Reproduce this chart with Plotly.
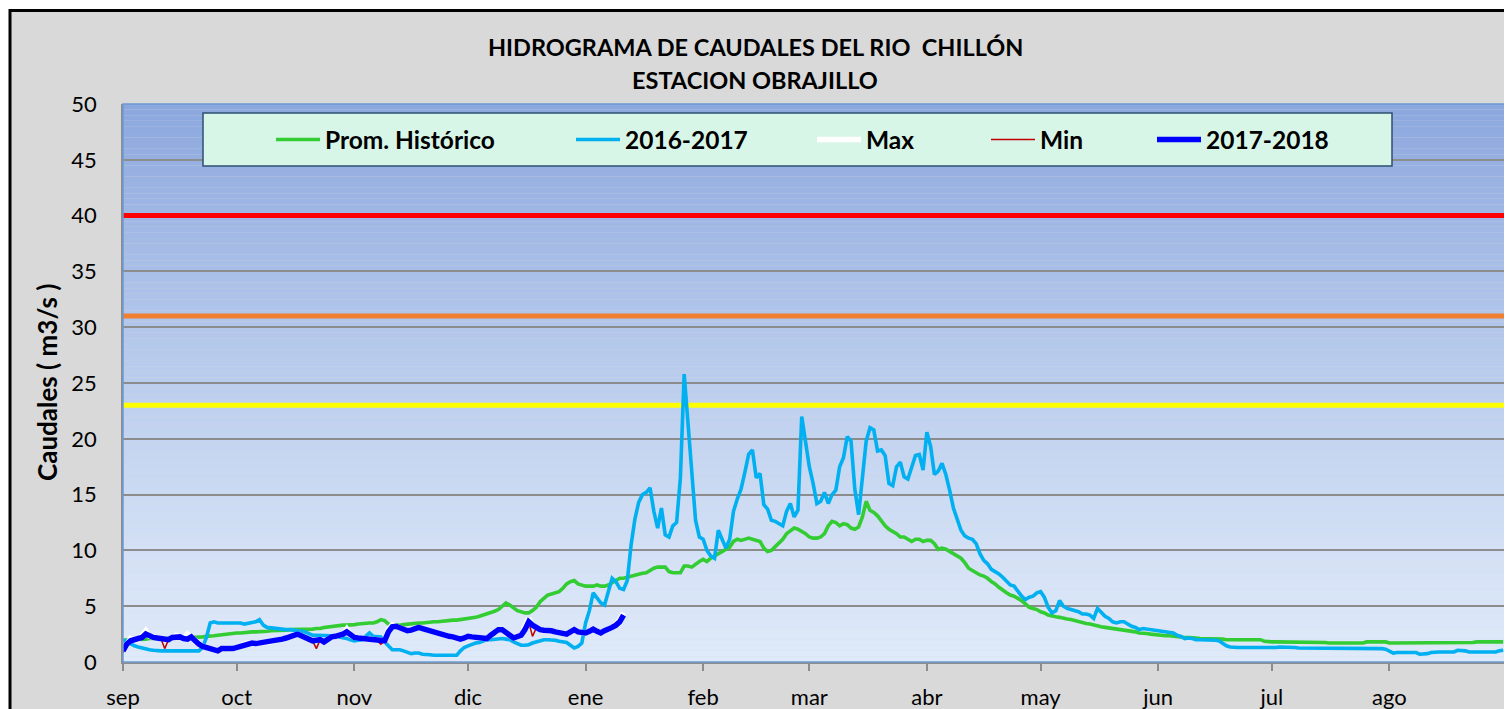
import plotly.graph_objects as go

# ---------------- DATA ----------------
dias = list(range(365))
rango_x = [0, 365]
meses = ["sep", "oct", "nov", "dic", "ene", "feb", "mar", "abr", "may", "jun", "jul", "ago"]
inicio_mes = [0, 30, 61, 91, 122, 153, 181, 212, 242, 273, 303, 334]
umbrales = [40, 31, 23]

prom_historico = [
    1.9, 2.0, 2.0, 2.0, 2.05, 2.05, 2.05, 2.1, 2.1, 2.1,
    2.1, 2.1, 2.1, 2.15, 2.15, 2.15, 2.15, 2.15, 2.2, 2.2,
    2.2, 2.25, 2.3, 2.3, 2.35, 2.4, 2.45, 2.5, 2.55, 2.6,
    2.6, 2.6, 2.65, 2.7, 2.7, 2.7, 2.7, 2.75, 2.75, 2.8,
    2.8, 2.85, 2.85, 2.85, 2.9, 2.9, 2.9, 2.9, 2.95, 2.95,
    2.95, 3.0, 3.0, 3.1, 3.15, 3.2, 3.2, 3.25, 3.3, 3.3,
    3.3, 3.35, 3.4, 3.45, 3.5, 3.5, 3.5, 3.6, 3.8, 3.7,
    3.4, 3.35, 3.35, 3.3, 3.35, 3.4, 3.45, 3.5, 3.5, 3.5,
    3.55, 3.6, 3.6, 3.6, 3.65, 3.7, 3.7, 3.75, 3.75, 3.8,
    3.85, 3.85, 3.95, 4.0, 4.1, 4.2, 4.3, 4.4, 4.55, 4.7,
    5.0, 5.3, 5.1, 4.8, 4.6, 4.5, 4.4, 4.4, 4.6, 4.9,
    5.4, 5.7, 6.0, 6.1, 6.2, 6.3, 6.6, 7.0, 7.2, 7.3,
    7.0, 6.9, 6.8, 6.8, 6.8, 6.9, 6.8, 6.8, 6.9, 7.1,
    7.3, 7.5, 7.5, 7.6, 7.7, 7.8, 7.9, 7.95, 8.0, 8.2,
    8.4, 8.5, 8.5, 8.5, 8.1, 8.0, 8.0, 8.0, 8.6, 8.6,
    8.5, 8.8, 9.0, 9.2, 9.0, 9.3, 9.5, 9.7, 9.9, 10.1,
    10.3, 10.8, 11.0, 10.9, 11.0, 11.1, 11.0, 10.9, 10.8, 10.2,
    9.9, 10.0, 10.3, 10.6, 11.0, 11.5, 11.8, 12.0, 11.9, 11.7,
    11.5, 11.2, 11.1, 11.1, 11.2, 11.5, 12.2, 12.6, 12.5, 12.2,
    12.4, 12.3, 12.0, 11.9, 12.1, 13.0, 14.4, 13.6, 13.4, 13.1,
    12.6, 12.2, 11.9, 11.7, 11.5, 11.2, 11.2, 11.0, 10.8, 11.0,
    11.0, 10.8, 10.9, 10.9, 10.6, 10.1, 10.2, 10.1, 9.9, 9.7,
    9.5, 9.3, 8.9, 8.4, 8.2, 8.0, 7.8, 7.7, 7.5, 7.2,
    7.0, 6.7, 6.4, 6.2, 6.0, 5.9, 5.7, 5.5, 5.2, 4.9,
    4.8, 4.7, 4.5, 4.4, 4.2, 4.1, 4.05, 4.0, 3.9, 3.85,
    3.8, 3.7, 3.6, 3.5, 3.45, 3.4, 3.3, 3.25, 3.15, 3.1,
    3.05, 3.0, 3.0, 2.95, 2.9, 2.8, 2.75, 2.7, 2.6, 2.6,
    2.55, 2.5, 2.45, 2.4, 2.4, 2.35, 2.35, 2.3, 2.3, 2.25,
    2.2, 2.2, 2.2, 2.15, 2.1, 2.1, 2.1, 2.1, 2.1, 2.1,
    2.05, 2.0, 2.0, 2.0, 2.0, 2.0, 2.0, 2.0, 2.0, 2.0,
    2.0, 1.85, 1.8, 1.8, 1.8, 1.8, 1.8, 1.8, 1.8, 1.8,
    1.8, 1.8, 1.8, 1.8, 1.8, 1.75, 1.8, 1.75, 1.7, 1.7,
    1.7, 1.7, 1.7, 1.7, 1.7, 1.7, 1.7, 1.7, 1.8, 1.8,
    1.8, 1.8, 1.8, 1.8, 1.7, 1.7, 1.7, 1.7, 1.7, 1.7,
    1.7, 1.7, 1.7, 1.7, 1.7, 1.7, 1.7, 1.7, 1.7, 1.7,
    1.7, 1.7, 1.7, 1.75, 1.75, 1.7, 1.75, 1.8, 1.8, 1.8,
    1.8, 1.8, 1.8, 1.8, 1.8,
]

caudal_2016_2017 = [
    2.0, 1.8, 1.6, 1.45, 1.35, 1.25, 1.2, 1.1, 1.05, 1.0,
    1.0, 1.0, 1.0, 1.0, 1.0, 1.0, 1.0, 1.0, 1.0, 1.0,
    1.0, 1.3, 2.2, 3.5, 3.6, 3.5, 3.5, 3.5, 3.5, 3.45,
    3.5, 3.5, 3.4, 3.45, 3.5, 3.6, 3.8, 3.3, 3.1, 3.05,
    3.0, 3.0, 2.95, 2.9, 2.9, 2.85, 2.8, 2.8, 2.7, 2.55,
    2.4, 2.4, 2.4, 2.4, 2.4, 2.35, 2.3, 2.25, 2.2, 2.1,
    2.0, 1.9, 1.95, 2.0, 2.3, 2.6, 2.3, 2.3, 2.25, 1.8,
    1.4, 1.1, 1.1, 1.1, 1.0, 0.85, 0.75, 0.8, 0.8, 0.7,
    0.7, 0.65, 0.6, 0.6, 0.6, 0.6, 0.6, 0.6, 0.6, 1.0,
    1.3, 1.45, 1.6, 1.7, 1.75, 1.85, 2.0, 2.0, 2.05, 2.1,
    2.1, 2.05, 2.0, 1.8, 1.65, 1.5, 1.5, 1.55, 1.7, 1.8,
    1.95, 2.0, 2.0, 2.0, 1.95, 1.85, 1.8, 1.75, 1.5, 1.25,
    1.4, 1.7, 3.5, 4.6, 6.2, 5.8, 5.3, 5.1, 6.2, 7.5,
    7.2, 6.6, 6.5, 7.3, 10.5, 12.8, 14.3, 15.0, 15.2, 15.6,
    13.5, 12.0, 13.8, 11.4, 11.2, 12.2, 12.5, 16.5, 25.8, 21.5,
    16.5, 12.7, 11.2, 11.0, 10.0, 9.5, 9.3, 11.8, 11.0, 10.2,
    11.0, 13.5, 14.6, 15.5, 17.0, 18.6, 19.0, 16.5, 16.9, 14.1,
    13.7, 12.7, 12.6, 12.4, 12.2, 13.5, 14.2, 13.0, 13.6, 22.0,
    19.5, 17.5, 16.0, 14.2, 14.4, 15.2, 14.2, 15.0, 15.4, 17.5,
    18.3, 20.2, 19.8, 15.5, 13.2, 16.5, 19.8, 21.0, 20.8, 18.9,
    19.0, 18.5, 16.0, 15.8, 17.5, 17.9, 16.6, 16.4, 17.4, 18.5,
    18.6, 17.2, 20.6, 19.3, 16.8, 17.1, 17.8, 16.8, 15.4, 13.8,
    12.8, 11.8, 11.3, 11.1, 11.0, 10.6, 9.7, 9.1, 8.8, 8.3,
    8.1, 7.9, 7.6, 7.3, 6.9, 6.8, 6.3, 5.9, 5.6, 5.8,
    5.9, 6.2, 6.3, 5.8, 4.9, 4.4, 4.6, 5.5, 5.0, 4.8,
    4.7, 4.6, 4.5, 4.3, 4.3, 4.2, 3.9, 4.8, 4.4, 4.1,
    3.9, 3.6, 3.5, 3.6, 3.6, 3.4, 3.2, 3.1, 2.9, 3.0,
    2.95, 2.9, 2.9, 2.8, 2.75, 2.7, 2.7, 2.6, 2.4, 2.3,
    2.1, 2.15, 2.1, 2.0, 2.0, 2.0, 2.0, 2.0, 1.95, 1.9,
    1.7, 1.45, 1.35, 1.3, 1.3, 1.3, 1.3, 1.3, 1.3, 1.3,
    1.3, 1.25, 1.25, 1.25, 1.3, 1.35, 1.35, 1.35, 1.35, 1.3,
    1.25, 1.25, 1.25, 1.25, 1.25, 1.25, 1.25, 1.25, 1.25, 1.25,
    1.25, 1.25, 1.25, 1.25, 1.2, 1.25, 1.25, 1.25, 1.25, 1.2,
    1.25, 1.25, 1.2, 1.15, 1.0, 0.8, 0.85, 0.85, 0.85, 0.85,
    0.85, 0.85, 0.7, 0.7, 0.75, 0.85, 0.9, 0.9, 0.9, 0.9,
    0.9, 0.9, 1.05, 1.05, 1.0, 0.9, 0.9, 0.9, 0.9, 0.9,
    0.9, 0.9, 0.9, 1.0, 1.05,
]

caudal_2017_2018 = [
    1.0, 1.6, 1.9, 2.0, 2.0, 2.2, 2.5, 2.3, 2.2, 2.15,
    2.1, 2.05, 2.0, 2.2, 2.25, 2.25, 2.1, 2.05, 2.25, 1.9,
    1.6, 1.4, 1.3, 1.25, 1.1, 1.0, 1.2, 1.25, 1.2, 1.2,
    1.3, 1.5, 1.6, 1.7, 1.7, 1.65, 1.7, 1.75, 1.75, 1.8,
    1.85, 1.95, 2.05, 2.15, 2.25, 2.4, 2.5, 2.35, 2.2, 2.0,
    1.9, 1.95, 2.0, 1.8, 2.1, 2.25, 2.3, 2.35, 2.5, 2.7,
    2.4, 2.2, 2.15, 2.1, 2.05, 2.0, 2.0, 1.9, 1.85, 1.9,
    2.7, 3.15, 3.2, 3.1, 2.9, 2.8, 2.85, 2.95, 3.1, 3.0,
    2.9, 2.75, 2.6, 2.5, 2.45, 2.4, 2.3, 2.25, 2.15, 2.05,
    2.15, 2.3, 2.25, 2.2, 2.15, 2.1, 2.1, 2.4, 2.65, 2.9,
    2.9, 2.7, 2.4, 2.15, 2.3, 2.4, 2.9, 3.6, 3.3, 3.05,
    2.9, 2.85, 2.85, 2.8, 2.7, 2.65, 2.55, 2.5, 2.7, 2.9,
    2.7, 2.6, 2.6, 2.75, 2.95, 2.75, 2.6, 2.8, 2.9, 3.1,
    3.3, 3.6, 4.2,
]

caudal_max = [
    1.0, 1.6, 2.1, 2.0, 2.0, 2.4, 2.8, 2.3, 2.2, 2.15,
    2.1, 2.05, 2.0, 2.2, 2.4, 2.25, 2.1, 2.5, 2.25, 1.9,
    1.6, 1.4, 1.3, 1.25, 1.1, 1.0, 1.2, 1.25, 1.2, 1.2,
    1.3, 1.5, 1.6, 1.7, 1.7, 1.65, 1.7, 1.75, 1.75, 1.8,
    1.85, 1.95, 2.05, 2.15, 2.25, 2.4, 2.5, 2.35, 2.2, 2.0,
    1.9, 1.95, 2.0, 1.8, 2.1, 2.25, 2.3, 2.35, 2.5, 2.95,
    2.4, 2.2, 2.15, 2.1, 2.05, 2.0, 2.0, 1.9, 1.85, 1.9,
    2.9, 3.35, 3.2, 3.1, 2.9, 2.8, 2.85, 2.95, 3.1, 3.0,
    2.9, 2.75, 2.6, 2.5, 2.45, 2.4, 2.3, 2.25, 2.15, 2.05,
    2.15, 2.3, 2.25, 2.2, 2.15, 2.1, 2.1, 2.4, 2.65, 2.9,
    2.9, 2.7, 2.4, 2.15, 2.3, 2.4, 3.2, 3.9, 3.3, 3.05,
    2.9, 2.85, 2.85, 2.8, 2.7, 2.65, 2.55, 2.5, 2.7, 2.9,
    2.7, 2.6, 2.6, 2.75, 2.95, 2.75, 2.6, 2.8, 2.9, 3.1,
    3.4, 3.8, 4.4,
]

caudal_min = [
    0.8, 1.6, 1.9, 2.0, 2.0, 2.2, 2.5, 2.3, 2.2, 2.15,
    2.1, 1.2, 2.0, 2.2, 2.25, 2.25, 2.1, 2.05, 2.25, 1.9,
    1.6, 1.4, 1.3, 1.25, 1.1, 0.85, 1.2, 1.25, 1.2, 1.2,
    1.3, 1.5, 1.6, 1.7, 1.7, 1.65, 1.7, 1.75, 1.75, 1.8,
    1.85, 1.95, 2.05, 2.15, 2.25, 2.4, 2.5, 2.35, 2.2, 2.0,
    1.9, 1.2, 2.0, 1.8, 2.1, 2.25, 2.3, 2.35, 2.5, 2.7,
    2.4, 2.2, 2.15, 2.1, 2.05, 2.0, 2.0, 1.9, 1.6, 1.9,
    2.7, 3.15, 3.2, 3.1, 2.9, 2.8, 2.85, 2.95, 3.1, 3.0,
    2.9, 2.75, 2.6, 2.5, 2.45, 2.4, 2.3, 2.25, 2.15, 2.05,
    2.15, 2.3, 2.25, 2.2, 2.15, 2.1, 2.1, 2.4, 2.65, 2.9,
    2.9, 2.7, 2.4, 2.15, 2.3, 2.4, 2.9, 3.6, 2.3, 3.05,
    2.9, 2.85, 2.85, 2.8, 2.7, 2.65, 2.55, 2.5, 2.7, 2.9,
    2.7, 2.6, 2.6, 2.75, 2.95, 2.75, 2.6, 2.8, 2.9, 3.05,
    3.15, 3.4, 4.2,
]

# ---------------- LAYOUT GEOMETRY ----------------
# The page body has an 8px margin, so figure pixels = page pixels - 8.
OFF = 8
W, H = 1512, 709
PL, PR, PT, PB = 123, 1507, 104, 662          # plot area in page pixels
ML, MR, MT, MB = PL - OFF, W - (PR - OFF), PT - OFF, H - (PB - OFF)
PW, PH = PR - PL, PB - PT


def px(xp):
    return (xp - PL) / PW


def py(yp):
    return (PB - yp) / PH


FONT = "Lato"
n_actual = len(caudal_2017_2018)

fig = go.Figure()

# threshold lines (full width)
umbral_colores = ["#FF0000", "#F07F2F", "#FFFF00"]
for val, col in zip(umbrales, umbral_colores):
    fig.add_trace(go.Scatter(
        x=rango_x, y=[val, val], mode="lines", showlegend=False,
        line=dict(color=col, width=5), hoverinfo="y",
    ))

series = [
    ("Prom. Histórico", dias, prom_historico, "#33CC33", 3.6, "legend", 275),
    ("2016-2017", dias, caudal_2016_2017, "#00B0F0", 3.6, "legend2", 575),
    ("Max", dias[:n_actual], caudal_max, "#FFFFFF", 5.5, "legend3", 816),
    ("Min", dias[:n_actual], caudal_min, "#C00000", 1.5, "legend4", 990),
    ("2017-2018", dias[:n_actual], caudal_2017_2018, "#0000FF", 5.5, "legend5", 1156),
]

legend_layouts = {}
for name, xs, ys, color, width, leg, lx in series:
    fig.add_trace(go.Scatter(
        x=xs, y=ys, name=name, mode="lines",
        line=dict(color=color, width=width),
        legend=leg, hoverinfo="x+y+name",
    ))
    legend_layouts[leg] = dict(
        x=px(lx - 4), y=py(139.5), xanchor="left", yanchor="middle",
        bgcolor="rgba(0,0,0,0)", borderwidth=0, itemwidth=44,
        font=dict(family=FONT, size=24.5, color="black", weight="bold"),
        orientation="h",
    )

shapes = []
# outer chart area (grey with black frame)
shapes.append(dict(type="rect", xref="paper", yref="paper",
                   x0=px(10), x1=px(1540), y0=py(740), y1=py(10.5),
                   fillcolor="#D9D9D9", line=dict(color="black", width=3), layer="below"))
# gradient plot background
top = (139, 167, 222)
bot = (222, 233, 249)
N = 100
for i in range(N):
    t = (i + 0.5) / N
    f = t ** 1.25
    c = tuple(int(round(bot[k] + (top[k] - bot[k]) * f)) for k in range(3))
    shapes.append(dict(type="rect", xref="x domain", yref="y domain",
                       x0=0, x1=1, y0=i / N, y1=(i + 1) / N,
                       fillcolor="rgb(%d,%d,%d)" % c, line=dict(width=0), layer="below"))
# plot-area frame
shapes.append(dict(type="rect", xref="x domain", yref="y domain", x0=0, x1=1, y0=0, y1=1,
                   line=dict(color="#6C9BD2", width=1.5), layer="above"))
# legend box
shapes.append(dict(type="rect", xref="paper", yref="paper",
                   x0=px(203), x1=px(1392), y0=py(166), y1=py(113),
                   fillcolor="#D8F6E8", line=dict(color="#2E4F72", width=1.5), layer="above"))

annotations = [
    dict(text="HIDROGRAMA DE CAUDALES DEL RIO  CHILLÓN", xref="paper", yref="paper",
         x=px(755), y=py(47), showarrow=False, xanchor="center", yanchor="middle",
         font=dict(family=FONT, size=23.5, color="black", weight="bold")),
    dict(text="ESTACION OBRAJILLO", xref="paper", yref="paper",
         x=px(755), y=py(80), showarrow=False, xanchor="center", yanchor="middle",
         font=dict(family=FONT, size=23.5, color="black", weight="bold")),
    dict(text="Caudales ( m3/s )", xref="paper", yref="paper", textangle=-90,
         x=px(47), y=py(383), showarrow=False, xanchor="center", yanchor="middle",
         font=dict(family=FONT, size=26, color="black", weight="bold")),
]

fig.update_layout(
    width=W, height=H,
    margin=dict(l=ML, r=MR, t=MT, b=MB, pad=0, autoexpand=False),
    paper_bgcolor="white",
    plot_bgcolor="rgba(0,0,0,0)",
    shapes=shapes,
    annotations=annotations,
    showlegend=True,
    **legend_layouts,
)

fig.update_xaxes(
    range=rango_x, tickmode="array", automargin=False,
    tickvals=inicio_mes + [rango_x[1]], ticktext=meses + [""],
    showgrid=False, zeroline=False,
    showline=True, linecolor="#8C8C8C", linewidth=1.5,
    ticks="outside", ticklen=7, tickwidth=1.5, tickcolor="#8C8C8C",
    tickfont=dict(family=FONT, size=22, color="black"),
    ticklabelstandoff=8,
)
fig.update_yaxes(
    range=[0, 50], dtick=5, tick0=0, automargin=False,
    showgrid=True, gridcolor="#8C8C8C", gridwidth=1.5,
    zeroline=False, showline=True, linecolor="#8C8C8C", linewidth=1.5,
    ticks="", tickfont=dict(family=FONT, size=22, color="black"),
    ticklabelstandoff=20,
)

fig.write_html("out.html")
